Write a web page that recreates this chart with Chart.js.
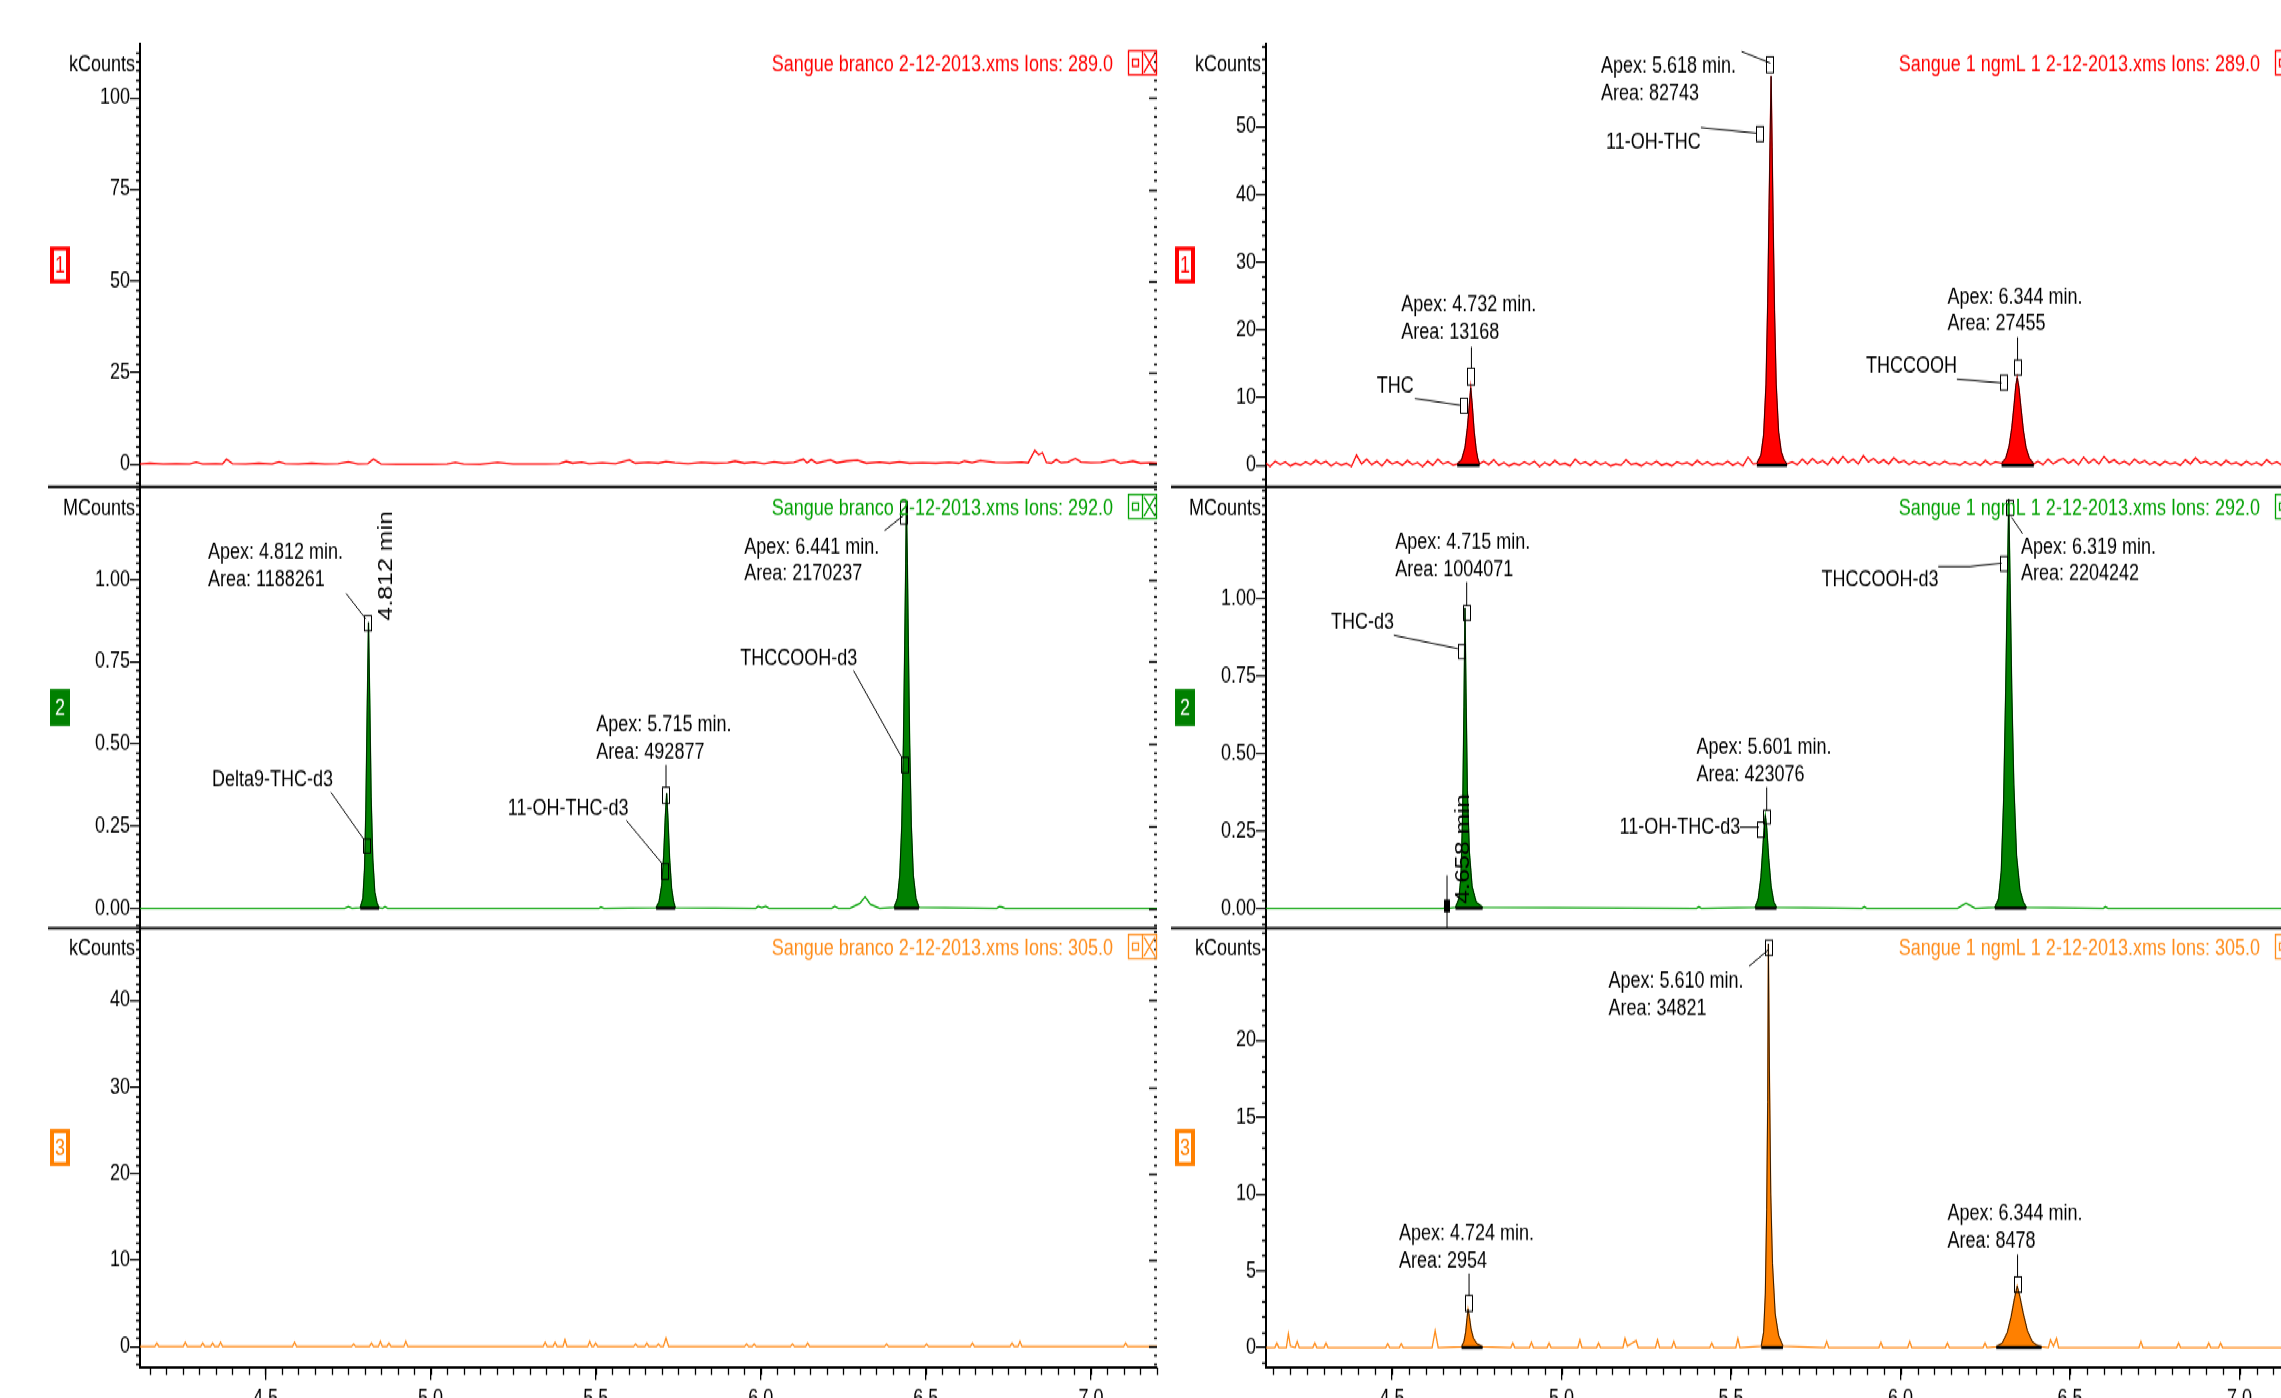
<!DOCTYPE html>
<html>
<head>
<meta charset="utf-8">
<script src="https://cdn.jsdelivr.net/npm/chart.js@4.4.0/dist/chart.umd.min.js"></script>
<style>
html, body { margin: 0; padding: 0; background: #fff; overflow: hidden; width: 2281px; height: 1398px; }
#wrap { position: absolute; left: 0; top: 0; width: 2281px; height: 1118px; transform: scaleY(1.25); transform-origin: 0 0; }
canvas { position: absolute; }
</style>
</head>
<body>
<div id="wrap"></div>
<script>
// the reference is stretched vertically, so everything is drawn flat and scaled by S
var S = 1.25;
var FONT = '"Liberation Sans", Arial, sans-serif';
var PAD = 20, XH = 40;

// retention time (min), intensity pairs
var blankIon289 = [[4.12,0.1],[4.15,0.3],[4.19,0.1],[4.23,0.2],[4.27,0.1],[4.29,0.6],[4.31,0.1],[4.35,0.2],[4.37,0.1],[4.382,1.4],[4.40,0.2],[4.44,0.1],[4.48,0.3],[4.52,0.1],[4.541,0.7],[4.56,0.2],[4.60,0.1],[4.64,0.3],[4.68,0.1],[4.72,0.2],[4.751,0.7],[4.78,0.1],[4.81,0.2],[4.827,1.4],[4.85,0.1],[4.90,0],[4.95,0],[5.00,0],[5.05,0.1],[5.075,0.5],[5.10,0.1],[5.15,0],[5.203,0.5],[5.25,0.1],[5.30,0.1],[5.35,0.1],[5.39,0.2],[5.411,0.8],[5.43,0.3],[5.458,0.6],[5.48,0.2],[5.52,0.4],[5.56,0.2],[5.602,1.2],[5.62,0.3],[5.66,0.5],[5.69,0.3],[5.713,0.8],[5.74,0.4],[5.78,0.2],[5.82,0.5],[5.86,0.3],[5.90,0.4],[5.922,0.9],[5.95,0.3],[5.98,0.6],[6.01,0.2],[6.04,0.7],[6.07,0.3],[6.10,0.5],[6.129,1.4],[6.14,0.4],[6.153,1.3],[6.17,0.3],[6.19,0.8],[6.211,1.2],[6.23,0.4],[6.26,0.9],[6.293,1.1],[6.32,0.3],[6.36,0.6],[6.39,0.3],[6.42,0.7],[6.45,0.3],[6.49,0.4],[6.53,0.3],[6.57,0.5],[6.60,0.3],[6.617,0.9],[6.64,0.4],[6.665,1.0],[6.687,0.8],[6.71,0.5],[6.75,0.4],[6.79,0.6],[6.81,0.4],[6.83,3.8],[6.842,2.6],[6.853,3.2],[6.865,0.5],[6.88,0.3],[6.895,1.3],[6.91,0.4],[6.93,0.6],[6.953,1.6],[6.97,0.6],[7.00,0.4],[7.03,0.5],[7.069,1.2],[7.09,0.3],[7.11,0.6],[7.127,0.9],[7.15,0.3],[7.18,0.4],[7.20,0.3]];

var sampleIon289 = [[4.128,0.3],[4.14,-0.2],[4.155,0.6],[4.17,0.1],[4.185,0.5],[4.2,-0.1],[4.215,0.3],[4.23,0],[4.245,0.5],[4.26,0.1],[4.275,0.7],[4.29,0.2],[4.305,0.6],[4.32,-0.1],[4.335,0.4],[4.35,0],[4.365,0.3],[4.38,-0.2],[4.395,1.5],[4.41,0.2],[4.425,0.9],[4.44,0.1],[4.455,0.6],[4.47,-0.1],[4.485,0.8],[4.5,0.2],[4.515,0.5],[4.53,0],[4.545,0.7],[4.56,0.1],[4.575,0.4],[4.59,-0.2],[4.605,0.6],[4.62,0],[4.635,0.9],[4.65,0.2],[4.665,0.5],[4.68,0],
  [4.692,0.2],[4.705,0.8],[4.715,2.6],[4.722,5.5],[4.728,9.0],[4.732,11.5],[4.737,8.5],[4.742,5.0],[4.748,2.3],[4.753,0.9],[4.758,0.2],
  [4.77,0.6],[4.785,0.1],[4.8,0.8],[4.815,0],[4.83,0.4],[4.845,-0.1],[4.86,0.3],[4.875,0],[4.89,0.5],[4.905,0.1],[4.92,0.6],[4.935,-0.2],[4.95,0.4],[4.965,0],[4.98,0.7],[4.995,0.1],[5.01,0.3],[5.025,-0.1],[5.04,0.9],[5.055,0.2],[5.07,0.5],[5.085,0],[5.1,0.6],[5.115,0.1],[5.13,0.4],[5.145,-0.1],[5.16,0.2],[5.175,0],[5.19,0.8],[5.205,0.1],[5.22,0.3],[5.235,-0.1],[5.25,0.4],[5.265,0.1],[5.28,0.6],[5.295,0],[5.31,0.3],[5.325,-0.1],[5.34,0.5],[5.355,0.2],[5.37,0.4],[5.385,0],[5.4,0.7],[5.415,0.1],[5.43,0.5],[5.445,0],[5.46,0.3],[5.475,0.1],[5.49,0.6],[5.505,0],[5.52,0.4],[5.535,-0.1],[5.55,1.2],[5.565,0.2],
  [5.576,0.3],[5.588,1.5],[5.596,4.5],[5.603,12],[5.608,24],[5.612,38],[5.615,48],[5.618,57.5],[5.621,47],[5.624,36],[5.628,23],[5.633,12],[5.64,5],[5.648,2],[5.656,0.8],[5.665,0.2],
  [5.68,0.5],[5.695,0.1],[5.71,0.9],[5.725,0.2],[5.74,1.0],[5.755,0.3],[5.77,0.7],[5.785,0.1],[5.8,1.1],[5.815,0.3],[5.83,1.3],[5.845,0.4],[5.86,0.9],[5.875,0.2],[5.89,1.4],[5.905,0.5],[5.92,1.0],[5.935,0.3],[5.95,0.8],[5.965,0.2],[5.98,1.1],[5.995,0.4],[6.01,0.7],[6.025,0.1],[6.04,0.6],[6.055,0.2],[6.07,0.5],[6.085,0],[6.1,0.4],[6.115,0.1],[6.13,0.6],[6.145,0.2],[6.16,0.3],[6.175,0],[6.19,0.5],[6.205,0.1],[6.22,0.4],[6.235,0],[6.25,0.7],[6.265,0.1],[6.28,0.5],
  [6.298,0.3],[6.31,1.0],[6.32,2.8],[6.328,5.5],[6.335,9.0],[6.34,11.8],[6.344,13.0],[6.349,11.5],[6.355,8.5],[6.362,5.2],[6.37,2.6],[6.38,1.0],[6.393,0.2],
  [6.405,0.6],[6.42,0.1],[6.435,0.9],[6.45,0.2],[6.465,0.7],[6.48,1.0],[6.495,0.3],[6.51,0.8],[6.525,0.1],[6.54,1.2],[6.555,0.3],[6.57,0.9],[6.585,0.2],[6.6,1.3],[6.615,0.4],[6.63,0.8],[6.645,0.2],[6.66,0.6],[6.675,0.1],[6.69,0.9],[6.705,0.3],[6.72,0.7],[6.735,0.1],[6.75,0.5],[6.765,0],[6.78,0.6],[6.795,0.2],[6.81,0.4],[6.825,0],[6.84,0.8],[6.855,0.2],[6.87,1.1],[6.885,0.3],[6.9,0.6],[6.915,0.1],[6.93,0.5],[6.945,0],[6.96,0.7],[6.975,0.2],[6.99,0.4],[7.005,0],[7.02,0.6],[7.035,0.1],[7.05,0.4],[7.065,0],[7.08,0.8],[7.095,0.2],[7.11,0.5],[7.125,0],[7.14,1.1],[7.155,0.3],[7.17,0.6],[7.19,0.2]];

var blankIon292 = [[4.12,0],[4.74,0],[4.751,0.005],[4.762,0],
  [4.787,0.002],[4.795,0.03],[4.8,0.12],[4.804,0.30],[4.808,0.60],[4.812,0.87],[4.816,0.62],[4.82,0.34],[4.825,0.15],[4.831,0.05],[4.838,0.015],[4.844,0.002],
  [4.855,0],[4.862,0.005],[4.87,0],[5.51,0],[5.516,0.004],[5.525,0],
  [5.683,0.002],[5.692,0.02],[5.7,0.07],[5.706,0.16],[5.711,0.28],[5.715,0.35],[5.719,0.27],[5.724,0.15],[5.73,0.06],[5.736,0.02],[5.741,0.002],
  [5.985,0],[5.992,0.006],[6.003,0.002],[6.015,0.006],[6.025,0],[6.215,0],[6.224,0.006],[6.235,0],[6.27,0],[6.3,0.015],[6.316,0.035],[6.332,0.012],[6.36,0],
  [6.404,0.003],[6.414,0.03],[6.421,0.10],[6.427,0.25],[6.432,0.50],[6.436,0.80],[6.439,1.05],[6.441,1.24],[6.444,1.05],[6.447,0.80],[6.451,0.50],[6.456,0.25],[6.462,0.10],[6.47,0.03],[6.479,0.003],
  [6.715,0],[6.722,0.005],[6.73,0.004],[6.74,0],[7.20,0]];

var sampleIon292 = [[4.128,0],[4.65,0],[4.658,0.002],[4.666,0],
  [4.687,0.003],[4.697,0.03],[4.703,0.10],[4.708,0.30],[4.712,0.65],[4.715,0.97],[4.718,0.70],[4.722,0.38],[4.728,0.18],[4.736,0.07],[4.748,0.02],[4.767,0.003],
  [5.398,0],[5.405,0.005],[5.412,0],
  [5.571,0.003],[5.58,0.03],[5.588,0.10],[5.594,0.20],[5.598,0.27],[5.601,0.30],[5.605,0.26],[5.611,0.16],[5.618,0.07],[5.626,0.02],[5.634,0.003],
  [5.886,0],[5.893,0.005],[5.9,0],[6.168,0],[6.193,0.017],[6.22,0],
  [6.278,0.003],[6.289,0.03],[6.297,0.12],[6.304,0.35],[6.31,0.70],[6.315,1.05],[6.319,1.32],[6.323,1.05],[6.328,0.70],[6.334,0.40],[6.342,0.17],[6.352,0.06],[6.362,0.02],[6.371,0.003],
  [6.598,0],[6.604,0.005],[6.612,0],[7.19,0]];

var blankIon305 = [[4.12,0],[4.165,0],[4.171,0.4],[4.177,0],[4.251,0],[4.257,0.5],[4.263,0],[4.304,0],[4.31,0.4],[4.316,0],[4.334,0],[4.34,0.4],[4.346,0],[4.358,0],[4.364,0.5],[4.37,0],[4.582,0],[4.588,0.5],[4.594,0],[4.761,0],[4.767,0.3],[4.773,0],[4.815,0],[4.821,0.4],[4.827,0],[4.842,0],[4.848,0.6],[4.854,0],[4.868,0],[4.874,0.4],[4.88,0],[4.919,0],[4.925,0.6],[4.931,0],[5.341,0],[5.347,0.5],[5.353,0],[5.371,0],[5.377,0.5],[5.383,0],[5.401,0],[5.407,0.8],[5.413,0],[5.476,0],[5.482,0.6],[5.488,0],[5.494,0],[5.5,0.4],[5.506,0],[5.615,0],[5.621,0.3],[5.627,0],[5.649,0],[5.655,0.4],[5.661,0],[5.684,0],[5.69,0.3],[5.696,0],[5.705,0],[5.713,1.0],[5.721,0],[5.951,0],[5.957,0.3],[5.963,0],[5.974,0],[5.98,0.3],[5.986,0],[6.09,0],[6.096,0.3],[6.102,0],[6.136,0],[6.142,0.4],[6.148,0],[6.375,0],[6.381,0.3],[6.387,0],[6.496,0],[6.502,0.3],[6.508,0],[6.635,0],[6.641,0.4],[6.647,0],[6.755,0],[6.761,0.4],[6.767,0],[6.779,0],[6.785,0.6],[6.791,0],[7.099,0],[7.105,0.4],[7.111,0],[7.20,0]];

var sampleIon305 = [[4.128,0],[4.154,0],[4.16,0.3],[4.166,0],[4.188,0],[4.194,0.9],[4.2,0.1],[4.214,0],[4.22,0.4],[4.226,0],[4.266,0],[4.272,0.3],[4.278,0],[4.299,0],[4.305,0.3],[4.311,0],[4.481,0],[4.487,0.25],[4.493,0],[4.521,0],[4.527,0.25],[4.533,0],[4.618,0],[4.627,1.1],[4.636,0],
  [4.705,0.05],[4.712,0.4],[4.717,1.0],[4.721,1.9],[4.724,2.5],[4.728,2.0],[4.733,1.2],[4.74,0.6],[4.75,0.25],[4.767,0.05],
  [4.85,0],[4.856,0.3],[4.862,0],[4.905,0],[4.911,0.35],[4.917,0],[4.957,0],[4.963,0.3],[4.969,0],[5.048,0],[5.054,0.5],[5.06,0],[5.103,0],[5.109,0.3],[5.115,0],[5.181,0],[5.187,0.6],[5.194,0.1],[5.22,0.45],[5.226,0],[5.277,0],[5.283,0.5],[5.289,0],[5.325,0],[5.331,0.4],[5.337,0],[5.437,0],[5.443,0.3],[5.449,0],[5.514,0],[5.52,0.6],[5.526,0],
  [5.589,0.1],[5.596,1.0],[5.601,3.5],[5.605,9],[5.608,16],[5.61,26.3],[5.613,18],[5.617,10],[5.622,5.5],[5.63,2.2],[5.64,0.8],[5.653,0.1],
  [5.776,0],[5.782,0.4],[5.788,0],[5.936,0],[5.942,0.35],[5.948,0],[6.021,0],[6.027,0.4],[6.033,0],[6.132,0],[6.138,0.3],[6.144,0],[6.243,0],[6.249,0.3],[6.255,0],
  [6.282,0.05],[6.3,0.3],[6.315,1.0],[6.326,2.0],[6.336,3.2],[6.344,4.0],[6.352,3.3],[6.362,2.2],[6.374,1.1],[6.388,0.4],[6.402,0.15],[6.416,0.05],
  [6.436,0],[6.442,0.5],[6.451,0.1],[6.46,0.6],[6.466,0],[6.703,0],[6.709,0.4],[6.715,0],[6.814,0],[6.82,0.3],[6.826,0],[6.903,0],[6.909,0.3],[6.915,0],[6.938,0],[6.944,0.3],[6.95,0],[7.19,0]];

// integrated peak windows (start, end)
var peaks289 = [[4.692,4.758],[5.576,5.665],[6.298,6.393]];
var peaksBlank292 = [[4.787,4.844],[5.683,5.741],[6.404,6.479]];
var peaks292 = [[4.687,4.767],[5.571,5.634],[6.278,6.371]];
var peaks305 = [[4.705,4.767],[5.589,5.653],[6.282,6.416]];

// tick labels
var timeTicks = [4.5, 5.0, 5.5, 6.0, 6.5, 7.0];
var kTicks100 = [0, 25, 50, 75, 100];
var kTicks50 = [0, 10, 20, 30, 40, 50];
var mTicks = [0, 0.25, 0.5, 0.75, 1.0];
var kTicks40 = [0, 10, 20, 30, 40];
var kTicks20 = [0, 5, 10, 15, 20];

// peak labels, anchored in data units
var notesBlank292 = {
  text: [['Apex: 4.812 min.', 4.326, 1.063], ['Area: 1188261', 4.326, 0.979], ['Delta9-THC-d3', 4.338, 0.370],
         ['Apex: 5.715 min.', 5.502, 0.538], ['Area: 492877', 5.502, 0.4545], ['11-OH-THC-d3', 5.234, 0.285],
         ['Apex: 6.441 min.', 5.950, 1.080], ['Area: 2170237', 5.950, 0.997], ['THCCOOH-d3', 5.938, 0.741]],
  lines: [[[4.744,0.958],[4.804,0.880]], [[4.698,0.353],[4.797,0.211]], [[5.713,0.436],[5.713,0.368]],
          [[5.593,0.267],[5.702,0.135]], [[6.375,1.149],[6.432,1.195]], [[6.281,0.723],[6.427,0.459]]],
  boxes: [[4.811,0.890,0.844], [4.808,0.211,0.168], [5.713,0.368,0.319], [5.709,0.136,0.088], [6.435,1.238,1.169], [6.436,0.459,0.412]],
  rot: [['4.812 min', 4.884, 0.875]]
};
var notes292 = {
  text: [['Apex: 4.715 min.', 4.509, 1.1605], ['Area: 1004071', 4.509, 1.071], ['THC-d3', 4.320, 0.902],
         ['Apex: 5.601 min.', 5.398, 0.5005], ['Area: 423076', 5.398, 0.4115], ['11-OH-THC-d3', 5.171, 0.240],
         ['Apex: 6.319 min.', 6.355, 1.146], ['Area: 2204242', 6.355, 1.0575], ['THCCOOH-d3', 5.767, 1.039]],
  lines: [[[4.720,1.053],[4.720,0.977]], [[4.505,0.881],[4.694,0.838]], [[5.605,0.391],[5.605,0.316]],
          [[5.526,0.2615],[5.582,0.2615]], [[6.360,1.209],[6.327,1.2625]], [[6.111,1.103],[6.205,1.103],[6.298,1.114]],
          [[4.662,0.106],[4.662,-0.062]]],
  boxes: [[4.720,0.977,0.929], [4.706,0.851,0.806], [5.605,0.316,0.2725], [5.588,0.278,0.229], [6.323,1.316,1.268], [6.306,1.1356,1.088], [4.662,0.028,-0.013,true]],
  rot: [['4.658 min', 4.727, 0.0142]]
};
var notes289 = {
  text: [['Apex: 4.732 min.', 4.527, 22.68], ['Area: 13168', 4.527, 18.6], ['THC', 4.455, 10.70],
         ['Apex: 5.618 min.', 5.116, 57.94], ['Area: 82743', 5.116, 54.0], ['11-OH-THC', 5.131, 46.85],
         ['Apex: 6.344 min.', 6.138, 23.92], ['Area: 27455', 6.138, 19.97], ['THCCOOH', 5.898, 13.65]],
  lines: [[[4.734,17.5],[4.734,14.35]], [[4.567,9.87],[4.700,8.88]], [[5.531,61.14],[5.616,59.42]],
          [[5.411,49.9],[5.576,49.07]], [[6.345,18.93],[6.345,15.53]], [[6.166,12.72],[6.298,12.17]]],
  boxes: [[4.734,14.35,11.83], [4.711,9.91,7.69], [5.616,60.36,57.99], [5.586,50.04,47.83], [6.345,15.53,13.31], [6.305,13.31,11.09]],
  rot: []
};
var notes305 = {
  text: [['Apex: 4.724 min.', 4.520, 7.04], ['Area: 2954', 4.520, 5.23],
         ['Apex: 5.610 min.', 5.138, 23.43], ['Area: 34821', 5.138, 21.63],
         ['Apex: 6.344 min.', 6.138, 8.34], ['Area: 8478', 6.138, 6.53]],
  lines: [[[4.727,4.82],[4.727,3.39]], [[5.553,24.84],[5.611,25.93]], [[6.345,6.06],[6.345,4.61]]],
  boxes: [[4.727,3.39,2.36], [5.613,26.53,25.54], [6.345,4.61,3.60]],
  rot: []
};
var noNotes = { text: [], lines: [], boxes: [], rot: [] };

var cols = [
  { canvasX: 0, canvasW: 1165, axisX: 140, borderX: 1157, sepFrom: 48, boxX: 50, xMin: 4.12, xMax: 7.20 },
  { canvasX: 1162, canvasW: 1150, axisX: 1266, borderX: 2304, sepFrom: 1171, boxX: 1175, xMin: 4.128, xMax: 7.19 }
];
var rows = [{ top: 44, bottom: 486 }, { top: 487, bottom: 927 }, { top: 928, bottom: 1368 }];

var RED = '#ff0000', GREEN = '#008000', GREEN_LINE = '#00a000', ORANGE = '#ff8000', ORANGE_LINE = '#ff8c1a';

var panels = [
  { col: 0, row: 0, trace: blankIon289, peaks: [], line: RED, fill: RED, head: RED, yMin: -6.01, yMax: 114.75, yTicks: kTicks100, minor: 2.5, dec: 0, unit: 'kCounts', tag: '1', solid: false, notes: noNotes, header: 'Sangue branco 2-12-2013.xms Ions: 289.0' },
  { col: 1, row: 0, trace: sampleIon289, peaks: peaks289, line: RED, fill: RED, head: RED, yMin: -3.11, yMax: 62.28, yTicks: kTicks50, minor: 2, dec: 0, unit: 'kCounts', tag: '1', solid: false, notes: notes289, header: 'Sangue 1 ngmL 1 2-12-2013.xms Ions: 289.0' },
  { col: 0, row: 1, trace: blankIon292, peaks: peaksBlank292, line: GREEN_LINE, fill: GREEN, head: GREEN_LINE, yMin: -0.0587, yMax: 1.28, yTicks: mTicks, minor: 0.025, dec: 2, unit: 'MCounts', tag: '2', solid: true, notes: notesBlank292, header: 'Sangue branco 2-12-2013.xms Ions: 292.0' },
  { col: 1, row: 1, trace: sampleIon292, peaks: peaks292, line: GREEN_LINE, fill: GREEN, head: GREEN_LINE, yMin: -0.0623, yMax: 1.358, yTicks: mTicks, minor: 0.025, dec: 2, unit: 'MCounts', tag: '2', solid: true, notes: notes292, header: 'Sangue 1 ngmL 1 2-12-2013.xms Ions: 292.0' },
  { col: 0, row: 2, trace: blankIon305, peaks: [], line: ORANGE_LINE, fill: ORANGE, head: ORANGE_LINE, yMin: -2.43, yMax: 48.44, yTicks: kTicks40, minor: 1, dec: 0, unit: 'kCounts', tag: '3', solid: false, notes: noNotes, header: 'Sangue branco 2-12-2013.xms Ions: 305.0' },
  { col: 1, row: 2, trace: sampleIon305, peaks: peaks305, line: ORANGE_LINE, fill: ORANGE, head: ORANGE_LINE, yMin: -1.30, yMax: 27.36, yTicks: kTicks20, minor: 1, dec: 0, unit: 'kCounts', tag: '3', solid: false, notes: notes305, header: 'Sangue 1 ngmL 1 2-12-2013.xms Ions: 305.0' }
];

function deco(p, col) {
  return {
    id: 'deco',
    afterDatasetsDraw: function (chart) {
      var ctx = chart.ctx, x = chart.scales.x, y = chart.scales.y, n = p.notes;
      ctx.save();
      ctx.fillStyle = '#000';
      ctx.strokeStyle = '#000';
      ctx.lineWidth = 1;
      ctx.font = '18px ' + FONT;
      ctx.textAlign = 'left';
      ctx.textBaseline = 'alphabetic';
      n.text.forEach(function (d) {
        ctx.fillText(d[0], x.getPixelForValue(d[1]), y.getPixelForValue(d[2]));
      });
      n.lines.forEach(function (pts) {
        ctx.beginPath();
        pts.forEach(function (q, i) {
          var px = x.getPixelForValue(q[0]), py = y.getPixelForValue(q[1]);
          if (i === 0) ctx.moveTo(px, py); else ctx.lineTo(px, py);
        });
        ctx.stroke();
      });
      n.boxes.forEach(function (b) {
        var px = Math.round(x.getPixelForValue(b[0])), y1 = y.getPixelForValue(b[1]), y2 = y.getPixelForValue(b[2]);
        if (b[3]) ctx.fillRect(px - 3, y1, 6, y2 - y1);
        else ctx.strokeRect(px - 3.5, y1, 7, y2 - y1);
      });
      ctx.font = '20px ' + FONT;
      n.rot.forEach(function (d) {
        ctx.save();
        ctx.translate(x.getPixelForValue(d[1]), y.getPixelForValue(d[2]));
        ctx.rotate(-Math.PI / 2);
        ctx.fillText(d[0], 0, 0);
        ctx.restore();
      });
      ctx.restore();
    },
    afterDraw: function (chart) {
      var ctx = chart.ctx, a = chart.chartArea, x = chart.scales.x, y = chart.scales.y;
      ctx.save();
      ctx.strokeStyle = '#000';
      ctx.lineWidth = 1.3;

      // minor ticks on the y axis and on the right frame
      var k0 = Math.ceil(p.yMin / p.minor - 1e-9), k1 = Math.floor(p.yMax / p.minor + 1e-9);
      ctx.beginPath();
      for (var k = k0; k <= k1; k++) {
        var v = k * p.minor;
        var py = Math.round(y.getPixelForValue(v)) + 0.5;
        var major = p.yTicks.some(function (t) { return Math.abs(t - v) < 1e-9; });
        if (!major) { ctx.moveTo(a.left - 4, py); ctx.lineTo(a.left, py); }
        ctx.moveTo(a.right - (major ? 8 : 3), py); ctx.lineTo(a.right, py);
      }
      ctx.stroke();

      // minor ticks on the time axis
      if (p.row === 2) {
        ctx.beginPath();
        var j0 = Math.ceil(col.xMin / 0.05), j1 = Math.floor(col.xMax / 0.05);
        for (var j = j0; j <= j1; j++) {
          var px = Math.round(x.getPixelForValue(j * 0.05)) + 0.5;
          ctx.moveTo(px, a.bottom); ctx.lineTo(px, a.bottom + 6);
        }
        ctx.stroke();
      }

      // row separator
      if (p.row < 2) {
        ctx.lineWidth = 2;
        ctx.beginPath();
        ctx.moveTo(col.sepFrom - col.canvasX, a.bottom + 0.5);
        ctx.lineTo(p.col === 0 ? a.right : chart.width, a.bottom + 0.5);
        ctx.stroke();
      }

      // trace number tag
      var bx = col.boxX - col.canvasX, bw = 20, bh = 37 / S, by = (a.top + a.bottom) / 2 - bh / 2;
      ctx.fillStyle = p.fill;
      ctx.fillRect(bx, by, bw, bh);
      if (!p.solid) {
        ctx.fillStyle = '#fff';
        ctx.fillRect(bx + 4, by + 4 / S, bw - 8, bh - 8 / S);
        ctx.fillStyle = p.fill;
      } else {
        ctx.fillStyle = '#fff';
      }
      ctx.font = '18px ' + FONT;
      ctx.textAlign = 'center';
      ctx.textBaseline = 'middle';
      ctx.fillText(p.tag, bx + bw / 2, by + bh / 2 + 1);

      // unit and header
      ctx.textBaseline = 'alphabetic';
      ctx.textAlign = 'right';
      ctx.fillStyle = '#000';
      ctx.fillText(p.unit, a.left - 5, a.top + 28 / S);
      ctx.fillStyle = p.head;
      ctx.fillText(p.header, a.right - 44, a.top + 28 / S);

      // little restore / close buttons
      var ix = a.right - 29, iy = a.top + 7 / S, ih = 24 / S;
      ctx.strokeStyle = p.head;
      ctx.lineWidth = 1.3;
      ctx.strokeRect(ix + 0.5, iy, 28, ih);
      ctx.beginPath();
      ctx.moveTo(ix + 14.5, iy); ctx.lineTo(ix + 14.5, iy + ih);
      ctx.moveTo(ix + 16, iy + 2); ctx.lineTo(ix + 27, iy + ih - 2);
      ctx.moveTo(ix + 27, iy + 2); ctx.lineTo(ix + 16, iy + ih - 2);
      ctx.stroke();
      ctx.strokeRect(ix + 4.5, iy + ih / 2 - 3.5 / S, 6, 7 / S);
      ctx.restore();
    }
  };
}

var wrap = document.getElementById('wrap');

panels.forEach(function (p) {
  var col = cols[p.col], row = rows[p.row];
  var last = p.row === 2;
  var areaH = (row.bottom - row.top) / S;
  var h = Math.round(areaH + PAD + (last ? XH : PAD));
  var cv = document.createElement('canvas');
  cv.width = col.canvasW;
  cv.height = h;
  cv.style.left = col.canvasX + 'px';
  cv.style.top = (row.top / S - PAD) + 'px';
  wrap.appendChild(cv);

  var datasets = [];
  p.peaks.forEach(function (w) {
    datasets.push({ data: [{ x: w[0], y: 0 }, { x: w[1], y: 0 }], borderColor: '#000', borderWidth: 2.5, pointRadius: 0, fill: false });
  });
  p.peaks.forEach(function (w) {
    var pts = p.trace.filter(function (q) { return q[0] >= w[0] && q[0] <= w[1]; })
      .map(function (q) { return { x: q[0], y: q[1] }; });
    datasets.push({ data: pts, borderColor: '#000', borderWidth: 0.8, backgroundColor: p.fill, fill: 'origin', pointRadius: 0 });
  });
  datasets.push({
    data: p.trace.map(function (q) { return { x: q[0], y: q[1] }; }),
    borderColor: p.line, borderWidth: 1.3, pointRadius: 0, fill: false
  });

  new Chart(cv, {
    type: 'line',
    data: { datasets: datasets },
    options: {
      responsive: false,
      maintainAspectRatio: false,
      animation: false,
      events: [],
      elements: { line: { tension: 0 } },
      layout: { padding: { left: 0, top: PAD, right: col.canvasW - (col.borderX - col.canvasX), bottom: last ? 0 : PAD } },
      plugins: { legend: { display: false }, tooltip: { enabled: false } },
      scales: {
        x: {
          type: 'linear', min: col.xMin, max: col.xMax, display: last,
          afterBuildTicks: function (s) { s.ticks = timeTicks.map(function (v) { return { value: v }; }); },
          afterFit: function (s) { s.height = last ? XH : 0; },
          border: { display: true, color: '#000', width: 2 },
          grid: { drawOnChartArea: false, drawTicks: true, tickLength: 10, color: '#000', lineWidth: 1.3 },
          ticks: { autoSkip: false, maxRotation: 0, padding: 4, color: '#000', font: { family: FONT, size: 18 },
                   callback: function (v) { return v.toFixed(1); } }
        },
        y: {
          type: 'linear', min: p.yMin, max: p.yMax,
          afterBuildTicks: function (s) { s.ticks = p.yTicks.map(function (v) { return { value: v }; }); },
          afterFit: function (s) { s.width = col.axisX - col.canvasX; },
          border: { display: true, color: '#000', width: 2 },
          grid: { drawOnChartArea: false, drawTicks: true, tickLength: 10, color: '#000', lineWidth: 1.3 },
          ticks: { autoSkip: false, padding: 0, color: '#000', font: { family: FONT, size: 18 },
                   callback: function (v) { return v.toFixed(p.dec); } }
        }
      }
    },
    plugins: [deco(p, col)]
  });
});
</script>
</body>
</html>
